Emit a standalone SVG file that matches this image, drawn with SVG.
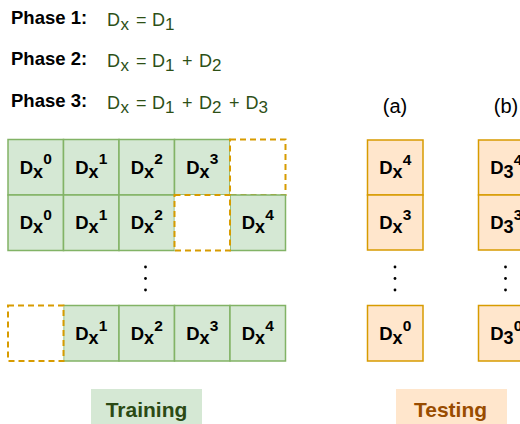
<svg xmlns="http://www.w3.org/2000/svg" width="520" height="424" viewBox="0 0 520 424">
  <style>
    .phase { font-family: "Liberation Sans", Arial, sans-serif; font-weight: bold; font-size: 18.5px; fill: #000; }
    .eq { font-family: "Liberation Sans", Arial, sans-serif; font-size: 18px; fill: #2d5016; }
    .eq .sub { font-size: 17px; }
    .tr { fill: #d5e8d4; stroke: #82b366; stroke-width: 1.5; }
    .te { fill: #ffe6cc; stroke: #d79b00; stroke-width: 1.5; }
    .gap { fill: #fff; stroke: #d79b00; stroke-width: 2; stroke-dasharray: 6 4; }
    .lbl { font-family: "Liberation Sans", Arial, sans-serif; font-weight: bold; font-size: 18.5px; fill: #000; text-anchor: middle; }
    .lbl .s { font-size: 18px; }
    .lbl .p { font-size: 15.5px; }
    .cap { font-family: "Liberation Sans", Arial, sans-serif; font-size: 20px; fill: #000; text-anchor: middle; }
    .dot { fill: #000; }
    .tag { font-family: "Liberation Sans", Arial, sans-serif; font-weight: bold; font-size: 21px; text-anchor: middle; }
  </style>

  <!-- phase definitions -->
  <g id="phases">
    <text class="phase" x="11" y="24">Phase 1:</text>
    <text class="eq" y="26"><tspan x="107">D</tspan><tspan class="sub" x="120.5" dy="4">x</tspan><tspan x="136" dy="-4">=</tspan><tspan x="152">D</tspan><tspan class="sub" x="165" dy="4">1</tspan></text>
    <text class="phase" x="11" y="65">Phase 2:</text>
    <text class="eq" y="67"><tspan x="107">D</tspan><tspan class="sub" x="120.5" dy="4">x</tspan><tspan x="136" dy="-4">=</tspan><tspan x="152">D</tspan><tspan class="sub" x="165" dy="4">1</tspan><tspan x="182" dy="-4">+</tspan><tspan x="199">D</tspan><tspan class="sub" x="212" dy="4">2</tspan></text>
    <text class="phase" x="11" y="107">Phase 3:</text>
    <text class="eq" y="109"><tspan x="107">D</tspan><tspan class="sub" x="120.5" dy="4">x</tspan><tspan x="136" dy="-4">=</tspan><tspan x="152">D</tspan><tspan class="sub" x="165" dy="4">1</tspan><tspan x="182" dy="-4">+</tspan><tspan x="199">D</tspan><tspan class="sub" x="212" dy="4">2</tspan><tspan x="229" dy="-4">+</tspan><tspan x="245.5">D</tspan><tspan class="sub" x="258.5" dy="4">3</tspan></text>
  </g>

  <!-- training row 1 -->
  <g id="train-r1">
    <rect class="tr" x="8" y="139.5" width="55.5" height="55.5"/>
    <rect class="tr" x="63.5" y="139.5" width="55.5" height="55.5"/>
    <rect class="tr" x="119" y="139.5" width="55.5" height="55.5"/>
    <rect class="tr" x="174.5" y="139.5" width="55.5" height="55.5"/>
    <rect class="gap" x="230" y="139.5" width="55.5" height="55.5"/>
    <text class="lbl" x="35.75" y="173.5">D<tspan class="s" dy="4">x</tspan><tspan class="p" dy="-13.5">0</tspan></text>
    <text class="lbl" x="91.25" y="173.5">D<tspan class="s" dy="4">x</tspan><tspan class="p" dy="-13.5">1</tspan></text>
    <text class="lbl" x="146.75" y="173.5">D<tspan class="s" dy="4">x</tspan><tspan class="p" dy="-13.5">2</tspan></text>
    <text class="lbl" x="202.25" y="173.5">D<tspan class="s" dy="4">x</tspan><tspan class="p" dy="-13.5">3</tspan></text>
  </g>

  <!-- training row 2 -->
  <g id="train-r2">
    <rect class="tr" x="8" y="195" width="55.5" height="55.5"/>
    <rect class="tr" x="63.5" y="195" width="55.5" height="55.5"/>
    <rect class="tr" x="119" y="195" width="55.5" height="55.5"/>
    <rect class="tr" x="230" y="195" width="55.5" height="55.5"/>
    <rect class="gap" x="174.5" y="195" width="55.5" height="55.5"/>
    <text class="lbl" x="35.75" y="229">D<tspan class="s" dy="4">x</tspan><tspan class="p" dy="-13.5">0</tspan></text>
    <text class="lbl" x="91.25" y="229">D<tspan class="s" dy="4">x</tspan><tspan class="p" dy="-13.5">1</tspan></text>
    <text class="lbl" x="146.75" y="229">D<tspan class="s" dy="4">x</tspan><tspan class="p" dy="-13.5">2</tspan></text>
    <text class="lbl" x="257.75" y="229">D<tspan class="s" dy="4">x</tspan><tspan class="p" dy="-13.5">4</tspan></text>
  </g>

  <!-- ellipsis marks -->
  <g id="ellipses">
    <circle class="dot" cx="145.5" cy="267" r="1.4"/>
    <circle class="dot" cx="145.5" cy="278.5" r="1.4"/>
    <circle class="dot" cx="145.5" cy="290" r="1.4"/>
    <circle class="dot" cx="395" cy="267" r="1.4"/>
    <circle class="dot" cx="395" cy="278.5" r="1.4"/>
    <circle class="dot" cx="395" cy="290" r="1.4"/>
    <circle class="dot" cx="505.5" cy="267" r="1.4"/>
    <circle class="dot" cx="505.5" cy="278.5" r="1.4"/>
    <circle class="dot" cx="505.5" cy="290" r="1.4"/>
  </g>

  <!-- training last row -->
  <g id="train-rn">
    <rect class="tr" x="63.5" y="305.5" width="55.5" height="55.5"/>
    <rect class="tr" x="119" y="305.5" width="55.5" height="55.5"/>
    <rect class="tr" x="174.5" y="305.5" width="55.5" height="55.5"/>
    <rect class="tr" x="230" y="305.5" width="55.5" height="55.5"/>
    <rect class="gap" x="8" y="305.5" width="55.5" height="55.5"/>
    <text class="lbl" x="91.25" y="340">D<tspan class="s" dy="4">x</tspan><tspan class="p" dy="-13.5">1</tspan></text>
    <text class="lbl" x="146.75" y="340">D<tspan class="s" dy="4">x</tspan><tspan class="p" dy="-13.5">2</tspan></text>
    <text class="lbl" x="202.25" y="340">D<tspan class="s" dy="4">x</tspan><tspan class="p" dy="-13.5">3</tspan></text>
    <text class="lbl" x="257.75" y="340">D<tspan class="s" dy="4">x</tspan><tspan class="p" dy="-13.5">4</tspan></text>
  </g>

  <!-- testing column (a) -->
  <g id="test-a">
    <text class="cap" x="395" y="113">(a)</text>
    <rect class="te" x="367.5" y="140" width="55.5" height="55"/>
    <rect class="te" x="367.5" y="195" width="55.5" height="55"/>
    <rect class="te" x="367.5" y="305.5" width="55.5" height="55.5"/>
    <text class="lbl" x="395.25" y="174">D<tspan class="s" dy="4">x</tspan><tspan class="p" dy="-13.5">4</tspan></text>
    <text class="lbl" x="395.25" y="229">D<tspan class="s" dy="4">x</tspan><tspan class="p" dy="-13.5">3</tspan></text>
    <text class="lbl" x="395.25" y="340">D<tspan class="s" dy="4">x</tspan><tspan class="p" dy="-13.5">0</tspan></text>
  </g>

  <!-- testing column (b), running past the right edge -->
  <g id="test-b">
    <text class="cap" x="506" y="113">(b)</text>
    <rect class="te" x="478.5" y="140" width="55.5" height="55"/>
    <rect class="te" x="478.5" y="195" width="55.5" height="55"/>
    <rect class="te" x="478.5" y="305.5" width="55.5" height="55.5"/>
    <text class="lbl" x="506.25" y="174">D<tspan class="s" dy="4">3</tspan><tspan class="p" dy="-13.5">4</tspan></text>
    <text class="lbl" x="506.25" y="229">D<tspan class="s" dy="4">3</tspan><tspan class="p" dy="-13.5">3</tspan></text>
    <text class="lbl" x="506.25" y="340">D<tspan class="s" dy="4">3</tspan><tspan class="p" dy="-13.5">0</tspan></text>
  </g>

  <!-- section tags -->
  <g id="tag-training">
    <rect x="91" y="389" width="111" height="35" fill="#d5e8d4"/>
    <text class="tag" x="146.5" y="417" fill="#2b4a14">Training</text>
  </g>
  <g id="tag-testing">
    <rect x="396" y="389" width="111" height="35" fill="#ffe6cc"/>
    <text class="tag" x="450.5" y="417" fill="#994c00">Testing</text>
  </g>
</svg>
